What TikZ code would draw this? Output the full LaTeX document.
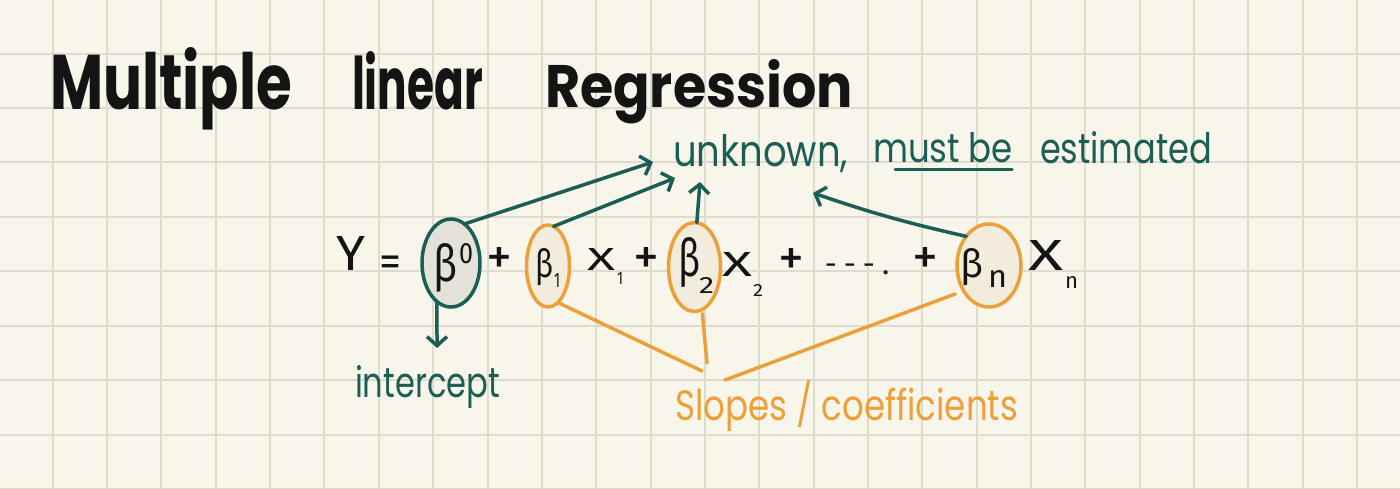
\documentclass[tikz,border=0pt]{standalone}
\usepackage{graphicx}
\usepackage{fontspec}
\setmainfont{Poppins}
\newfontfamily\eqfont{Fira Sans}
\usetikzlibrary{arrows.meta,shapes.geometric}
\definecolor{paper}{HTML}{F8F5EA}
\definecolor{gridc}{HTML}{DFDBCD}
\definecolor{inkgreen}{HTML}{1B5E56}
\definecolor{inkorange}{HTML}{EBA03A}
\definecolor{inkblack}{HTML}{141414}
\definecolor{fillgray}{HTML}{E4E2D8}
\definecolor{fillcream}{HTML}{F1ECDC}
\newcommand{\fitbox}[3]{\resizebox{#1pt}{#2pt}{#3}}
\tikzset{
  gridline/.style={draw=gridc, line width=2pt},
  word/.style={inner sep=0pt, outer sep=0pt, anchor=base west},
  titleword/.style={word, text=inkblack, font=\bfseries},
  greenword/.style={word, text=inkgreen},
  orangeword/.style={word, text=inkorange},
  eqword/.style={word, text=inkblack, font=\eqfont},
  opsign/.style={inner sep=0pt, anchor=base, text=inkblack, font=\eqfont\fontsize{52}{52}\selectfont},
  coefoval/.style={ellipse, draw, line width=3.5pt, inner sep=0pt, outer sep=0pt},
  greenoval/.style={coefoval, draw=inkgreen, fill=fillgray},
  orangeoval/.style={coefoval, draw=inkorange, fill=fillcream},
  garrow/.style={draw=inkgreen, line width=3.5pt, line cap=round,
     -{Straight Barb[length=9pt,width=20pt]}},
  oline/.style={draw=inkorange, line width=3.5pt, line cap=round},
}
\begin{document}
\begin{tikzpicture}[x=1pt, y=-1pt]
\useasboundingbox (0,0) rectangle (1400,489);
\fill[paper] (0,0) rectangle (1400,489);
\foreach \i in {-1,...,24} \draw[gridline] ({52.7+54.35*\i},0) -- ({52.7+54.35*\i},489);
\foreach \j in {-1,...,8} \draw[gridline] (0,{53.7+54.4*\j}) -- (1400,{53.7+54.4*\j});

% title
\node[titleword] (t1) at (50,110) {\fitbox{242}{62}{Multiple}};
\node[titleword] (t2) at (352,110) {\fitbox{131}{58}{linear}};
\node[titleword] (t3) at (545,108) {\fitbox{308}{48}{Regression}};

% green annotation
\node[greenword] (unk) at (673,167) {\fitbox{175}{32}{unknown,}};
\node[greenword] (must) at (873,163) {\fitbox{140}{30}{must be}};
\coordinate (ul1) at (895,170);
\coordinate (ul2) at (1012,170);
\draw[inkgreen, line width=3pt, line cap=round] (ul1) -- (ul2);
\node[greenword] (est) at (1040,164) {\fitbox{172}{32}{estimated}};

% ovals
\node[greenoval, minimum width=58pt, minimum height=88pt] (e0) at (451,263) {};
\node[orangeoval, minimum width=43pt, minimum height=82pt] (e1) at (548,266) {};
\node[orangeoval, minimum width=52pt, minimum height=89pt] (e2) at (694.5,267) {};
\node[orangeoval, minimum width=64pt, minimum height=83pt] (en) at (989,265.5) {};

% equation
\node[eqword] (Y) at (336,270) {\fitbox{29}{34}{Y}};
\node[opsign, font=\eqfont\fontsize{44}{44}\selectfont] (eq) at (390,276) {=};
\node[eqword] (b0) at (433,281) {\fitbox{24}{38}{β}};
\node[eqword] (b0s) at (459,263) {\fitbox{14}{20}{0}};
\node[opsign] (p1) at (499,274) {+};
\node[eqword] (b1) at (535,277) {\fitbox{18}{29}{β}};
\node[eqword] (b1s) at (554,287) {\fitbox{6}{14}{1}};
\node[eqword] (X1) at (587,270) {\fitbox{28}{22}{X}};
\node[eqword] (X1s) at (617,284) {\fitbox{6}{12}{1}};
\node[opsign] (p2) at (646,274) {+};
\node[eqword] (b2) at (678,276) {\fitbox{22}{39}{β}};
\node[eqword] (b2s) at (699,293) {\fitbox{15}{16}{2}};
\node[eqword] (X2) at (722,276) {\fitbox{30}{24}{X}};
\node[eqword] (X2s) at (753,296) {\fitbox{10}{12}{2}};
\node[opsign] (p3) at (791,275) {+};
\node[opsign, font=\eqfont\fontsize{30}{30}\selectfont] (dots) at (857,274.5) {-\hspace{7pt}-\hspace{7pt}-\hspace{7pt}.};
\node[opsign] (p4) at (925,274) {+};
\node[eqword] (bn) at (960,277) {\fitbox{23}{29}{β}};
\node[eqword] (bns) at (988,287) {\fitbox{19}{17}{n}};
\node[eqword] (Xn) at (1028,270) {\fitbox{35}{30}{X}};
\node[eqword] (Xns) at (1065,288) {\fitbox{13}{12}{n}};

% green arrows
\coordinate (u0) at (653,162);
\coordinate (u1) at (675,178);
\coordinate (u2) at (700,182);
\coordinate (un) at (813,193);
\coordinate (ti) at (437,348);
\draw[garrow] (e0.71) -- (u0);
\draw[garrow] (e1.82) -- (u1);
\draw[garrow] (e2.87) -- (u2);
\draw[garrow] (en.128) to[bend left=3] (un);
\draw[garrow] (e0.250) -- (ti);
\node[greenword] (icpt) at (355,397) {\fitbox{145}{32}{intercept}};

% orange lines
\coordinate (s1) at (702,371);
\coordinate (s2) at (707,363);
\coordinate (s3) at (725,380);
\draw[oline] (e1.285) -- (s1);
\draw[oline, shorten <=4pt] (e2.280) -- (s2);
\draw[oline, shorten <=9pt] (en.225) -- (s3);
\node[orangeword] (slopes) at (675,420) {\fitbox{343}{40}{Slopes / coefficients}};
\end{tikzpicture}
\end{document}
